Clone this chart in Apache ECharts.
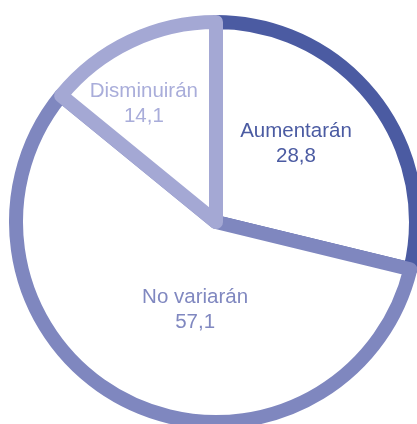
<!DOCTYPE html>
<html>
<head>
<meta charset="utf-8">
<script src="https://cdn.jsdelivr.net/npm/echarts@6/dist/echarts.min.js"></script>
<style>
  html, body { margin: 0; padding: 0; background: #ffffff; }
  #chart { width: 417px; height: 424px; }
</style>
</head>
<body>
<div id="chart"></div>
<script>
// Expectativas: porcentaje de respuestas
const categories = ['Aumentarán', 'No variarán', 'Disminuirán'];
const values = [28.8, 57.1, 14.1];
const sliceColors = ['#4b5ba2', '#7f87bf', '#a4a8d4'];
const textColors = ['#4b5ba2', '#8088c0', '#a9adda'];
// label nudges from the default inside position
const labelDx = [-1, 25, -28];
const labelDy = [-15, -4, -25];

const chart = echarts.init(document.getElementById('chart'), null, { renderer: 'canvas' });

chart.setOption({
  animation: false,
  series: [{
    type: 'pie',
    center: [216, 222],
    radius: 200,
    startAngle: 90,
    clockwise: true,
    silent: true,
    emphasis: { disabled: true },
    label: {
      show: true,
      position: 'inside',
      fontFamily: 'Liberation Sans, Arial, sans-serif',
      fontSize: 20.5,
      lineHeight: 25,
      align: 'center',
      formatter: p => p.name + '\n' + String(p.value).replace('.', ',')
    },
    labelLayout: p => ({ dx: labelDx[p.dataIndex], dy: labelDy[p.dataIndex] }),
    data: categories.map((name, i) => ({
      name: name,
      value: values[i],
      itemStyle: {
        color: '#ffffff',
        borderColor: sliceColors[i],
        borderWidth: 14,
        borderJoin: 'round'
      },
      label: { color: textColors[i] }
    }))
  }]
});
</script>
</body>
</html>
